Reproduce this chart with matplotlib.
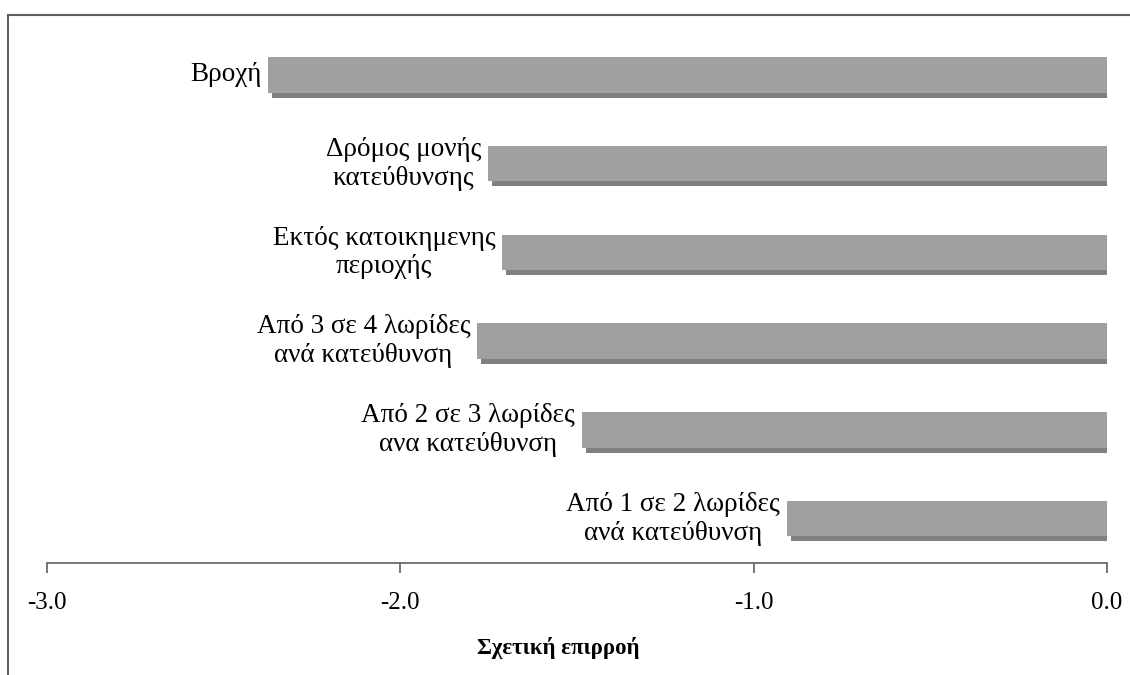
import matplotlib.pyplot as plt
from matplotlib.lines import Line2D

plt.rcParams['font.family'] = ['Liberation Serif', 'DejaVu Serif']

# ── data ──────────────────────────────────────────────────────────────────────

labels = [
    "Από 1 σε 2 λωρίδες\nανά κατεύθυνση",
    "Από 2 σε 3 λωρίδες\nανα κατεύθυνση",
    "Από 3 σε 4 λωρίδες\nανά κατεύθυνση",
    "Εκτός κατοικημενης\nπεριοχής",
    "Δρόμος μονής\nκατεύθυνσης",
    "Βροχή",
]
values = [-0.905, -1.486, -1.782, -1.711, -1.752, -2.374]
xticks = [-3.0, -2.0, -1.0, 0.0]

# ── figure ────────────────────────────────────────────────────────────────────

fig = plt.figure(figsize=(11.3, 6.75), dpi=100)
ax = fig.add_axes([47 / 1130, 1 - 563 / 675, (1107 - 47) / 1130, (563 - 30.6) / 675])

pos = list(range(len(values)))
h = 0.4
sx = 4 / 354.67   # drop shadow offset, x in data units
sy = 5 / 88.8     # drop shadow offset, y in data units

# shadow first, then the bar on top
ax.barh([p - sy for p in pos], [-(v + sx) for v in values],
        left=[v + sx for v in values], height=h, color="#808080", zorder=1)
ax.barh(pos, [-v for v in values], left=values, height=h,
        color="#A0A0A0", zorder=2)

for p, v, lab in zip(pos, values, labels):
    ax.annotate(lab, (v, p), xytext=(-7, 0), textcoords="offset pixels",
                ha="right", va="center", multialignment="center",
                fontsize=19.5, color="black")

ax.set_xlim(-3, 0)
ax.set_ylim(-0.5, len(values) - 0.5)
ax.set_xticks(xticks)
ax.set_xticklabels([f"{t:.1f}" for t in xticks], fontsize=18)
ax.set_yticks([])
for side in ["top", "right", "left"]:
    ax.spines[side].set_visible(False)
ax.spines["bottom"].set_color("#606060")
ax.spines["bottom"].set_linewidth(1.2)
ax.tick_params(axis="x", direction="out", length=7, width=1.2,
               color="#606060", pad=14)

fig.text(558 / 1130, 1 - 648 / 675, "Σχετική επιρροή", ha="center",
         va="center", fontsize=16.5, fontweight="bold")

# outer chart frame (top and left edges)
fig.add_artist(Line2D([8 / 1130, 1.0], [1 - 15 / 675, 1 - 15 / 675],
                      transform=fig.transFigure, color="#606060", lw=1.5))
fig.add_artist(Line2D([8 / 1130, 8 / 1130], [0.0, 1 - 15 / 675],
                      transform=fig.transFigure, color="#606060", lw=1.5))

fig.savefig("out.png", dpi=100)
